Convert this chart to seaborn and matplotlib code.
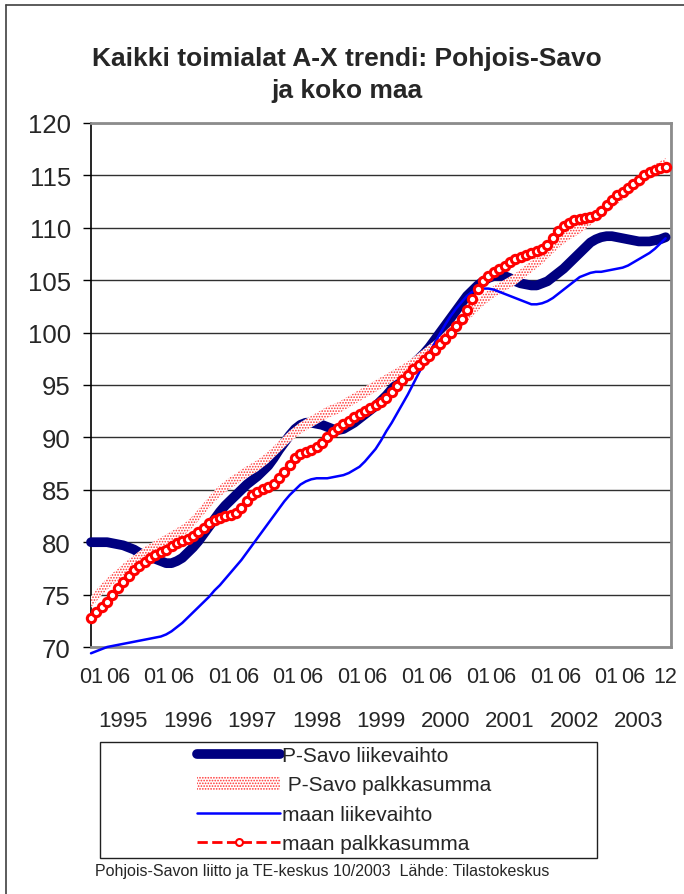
import numpy as np
import pandas as pd
import matplotlib
matplotlib.use("Agg")
import matplotlib.pyplot as plt
import matplotlib.patches as mpatches
from matplotlib.lines import Line2D
import matplotlib.transforms as mtransforms
import seaborn as sns

# monthly values, Jan 1995 .. Dec 2003 (108 months)
psavo_liikevaihto = [
    80.0, 80.0, 80.0, 80.0, 79.9, 79.8, 79.7, 79.5, 79.3, 79.0, 78.8, 78.6,
    78.4, 78.2, 78.0, 78.0, 78.2, 78.5, 79.0, 79.5, 80.1, 80.8, 81.5, 82.2,
    82.9, 83.5, 84.0, 84.5, 85.0, 85.5, 85.9, 86.3, 86.8, 87.3, 88.0, 88.8,
    89.5, 90.2, 90.8, 91.2, 91.4, 91.4, 91.3, 91.2, 91.0, 90.8, 90.7, 90.8,
    91.1, 91.4, 91.8, 92.2, 92.6, 93.0, 93.5, 94.0, 94.6, 95.2, 95.8, 96.4,
    97.0, 97.5, 98.0, 98.6, 99.3, 100.0, 100.7, 101.4, 102.1, 102.8, 103.5, 104.0,
    104.5, 104.9, 105.2, 105.4, 105.4, 105.4, 105.2, 104.9, 104.7, 104.6, 104.5, 104.5,
    104.7, 104.9, 105.3, 105.7, 106.1, 106.6, 107.1, 107.6, 108.1, 108.6, 108.9, 109.1,
    109.2, 109.2, 109.1, 109.0, 108.9, 108.8, 108.7, 108.7, 108.7, 108.8, 108.9, 109.1,
]
psavo_palkkasumma = [
    74.3, 74.9, 75.5, 76.0, 76.5, 76.9, 77.4, 77.8, 78.2, 78.6, 79.0, 79.3,
    79.6, 79.9, 80.2, 80.5, 80.8, 81.1, 81.5, 82.0, 82.6, 83.2, 83.8, 84.4,
    84.9, 85.3, 85.7, 86.0, 86.4, 86.7, 87.0, 87.3, 87.7, 88.1, 88.6, 89.1,
    89.6, 90.1, 90.5, 90.9, 91.2, 91.5, 91.8, 92.1, 92.4, 92.6, 92.8, 93.1,
    93.4, 93.7, 94.0, 94.3, 94.6, 94.9, 95.2, 95.5, 95.8, 96.1, 96.4, 96.7,
    97.1, 97.5, 97.9, 98.3, 98.7, 99.1, 99.6, 100.1, 100.6, 101.1, 101.6, 102.1,
    102.6, 103.1, 103.5, 103.9, 104.2, 104.5, 104.8, 105.1, 105.5, 105.9, 106.3, 106.7,
    107.1, 107.6, 108.1, 108.6, 109.0, 109.4, 109.7, 110.0, 110.4, 110.8, 111.2, 111.6,
    112.0, 112.4, 112.8, 113.2, 113.6, 114.0, 114.4, 114.8, 115.2, 115.5, 115.8, 116.1,
]
maan_liikevaihto = [
    69.4, 69.6, 69.8, 70.0, 70.1, 70.2, 70.3, 70.4, 70.5, 70.6, 70.7, 70.8,
    70.9, 71.0, 71.2, 71.5, 71.9, 72.3, 72.8, 73.3, 73.8, 74.3, 74.8, 75.4,
    75.9, 76.5, 77.1, 77.7, 78.3, 79.0, 79.7, 80.4, 81.1, 81.8, 82.5, 83.2,
    83.9, 84.5, 85.0, 85.5, 85.8, 86.0, 86.1, 86.1, 86.1, 86.2, 86.3, 86.4,
    86.6, 86.9, 87.2, 87.7, 88.3, 88.9, 89.7, 90.6, 91.4, 92.3, 93.2, 94.1,
    95.1, 96.1, 97.1, 98.1, 99.0, 99.9, 100.8, 101.6, 102.3, 102.9, 103.5, 103.9,
    104.1, 104.2, 104.2, 104.1, 103.9, 103.7, 103.5, 103.3, 103.1, 102.9, 102.7, 102.7,
    102.8, 103.0, 103.3, 103.7, 104.1, 104.5, 104.9, 105.3, 105.5, 105.7, 105.8, 105.8,
    105.9, 106.0, 106.1, 106.2, 106.4, 106.7, 107.0, 107.3, 107.6, 108.0, 108.5, 109.0,
]
maan_palkkasumma = [
    72.8, 73.3, 73.8, 74.3, 75.0, 75.6, 76.2, 76.8, 77.3, 77.7, 78.1, 78.5,
    78.8, 79.1, 79.3, 79.6, 79.9, 80.1, 80.3, 80.6, 81.0, 81.4, 81.8, 82.1,
    82.3, 82.5, 82.6, 82.8, 83.3, 83.9, 84.5, 84.8, 85.1, 85.3, 85.6, 86.1,
    86.7, 87.4, 88.0, 88.4, 88.6, 88.8, 89.1, 89.5, 90.0, 90.5, 90.9, 91.3,
    91.6, 91.9, 92.2, 92.5, 92.8, 93.1, 93.4, 93.8, 94.3, 94.9, 95.5, 96.0,
    96.5, 96.9, 97.4, 97.8, 98.3, 98.9, 99.4, 100.0, 100.6, 101.3, 102.2, 103.2,
    104.2, 104.9, 105.4, 105.8, 106.1, 106.4, 106.7, 107.0, 107.2, 107.4, 107.6, 107.8,
    108.0, 108.4, 109.0, 109.7, 110.2, 110.5, 110.7, 110.8, 110.9, 111.0, 111.2, 111.6,
    112.2, 112.7, 113.1, 113.4, 113.8, 114.2, 114.6, 115.0, 115.3, 115.5, 115.7, 115.8,
]
years = ["1995", "1996", "1997", "1998", "1999", "2000", "2001", "2002", "2003"]
series_labels = ["P-Savo liikevaihto", " P-Savo palkkasumma", "maan liikevaihto", "maan palkkasumma"]
title = "Kaikki toimialat A-X trendi: Pohjois-Savo\nja koko maa"
footer = "Pohjois-Savon liitto ja TE-keskus 10/2003  Lähde: Tilastokeskus"

months = np.arange(len(maan_palkkasumma))
df = pd.DataFrame({
    "month": months,
    "psavo_lv": psavo_liikevaihto,
    "psavo_ps": psavo_palkkasumma,
    "maa_lv": maan_liikevaihto,
    "maa_ps": maan_palkkasumma,
})

sns.set_style("white")
plt.rcParams["font.family"] = ["Liberation Sans", "DejaVu Sans"]
plt.rcParams["hatch.linewidth"] = 0.8

W, H = 684, 895
fig = plt.figure(figsize=(W / 100, H / 100), dpi=100)
ax = fig.add_axes([91 / W, 1 - 648 / H, 580 / W, 524 / H])

navy = "#000080"
sns.lineplot(data=df, x="month", y="psavo_lv", color=navy, linewidth=7,
             solid_capstyle="round", legend=False, ax=ax, zorder=3, clip_on=False)
ax.fill_between(df["month"], df["psavo_ps"] - 0.55, df["psavo_ps"] + 0.55,
                facecolor="white", edgecolor="#ff3030", hatch="......",
                linewidth=0, zorder=4)
sns.lineplot(data=df, x="month", y="maa_lv", color="#0000ff", linewidth=1.8,
             legend=False, ax=ax, zorder=5, clip_on=False)
sns.lineplot(data=df, x="month", y="maa_ps", color="red", linewidth=1.5,
             linestyle="--", marker="o", markersize=6, markerfacecolor="white",
             markeredgecolor="red", markeredgewidth=2.2,
             legend=False, ax=ax, zorder=6, clip_on=False)

ax.set_xlim(0, 108)
ax.set_ylim(70, 120)
ax.set_yticks(np.arange(70, 121, 5))
ax.tick_params(axis="y", labelsize=18.5, length=6, width=1, color="black",
               direction="out", pad=8.5, left=True)

# tick labels: 01 and 06 of each year, 12 at the end
xt, xl = [], []
for k in range(len(years)):
    xt += [12 * k, 12 * k + 5]
    xl += ["01", "06"]
xt.append(len(months) - 1)
xl.append("12")
ax.set_xticks(xt)
ax.set_xticklabels(xl)
ax.set_xticks(np.arange(0, 109, 12), minor=True)
ax.tick_params(axis="x", which="both", length=0, labelsize=15.5, pad=14)

ax.grid(False)
ax.grid(True, axis="y", which="major", color="#303030", linewidth=1)
ax.grid(True, axis="x", which="minor", color="#303030", linewidth=1)
ax.set_axisbelow(True)
ax.set_xlabel("")
ax.set_ylabel("")

for side in ["top", "right", "bottom"]:
    ax.spines[side].set_color("#8c8c8c")
    ax.spines[side].set_linewidth(2)
ax.spines["left"].set_color("black")
ax.spines["left"].set_linewidth(1.2)

# year labels under the tick labels
trans = mtransforms.blended_transform_factory(ax.transData, ax.transAxes)
for k, yr in enumerate(years):
    ax.text(12 * k + 6, -0.141, yr, transform=trans, ha="center", va="center",
            fontsize=16)

fig.text(0.507, 1 - 75 / H, title, ha="center", va="center", fontsize=19,
         fontweight="bold", linespacing=1.45)

# legend in its own box
handles = [
    Line2D([], [], color=navy, linewidth=7, solid_capstyle="round"),
    mpatches.Patch(facecolor="white", edgecolor="#ff3030", hatch="......", linewidth=0),
    Line2D([], [], color="#0000ff", linewidth=1.8),
    Line2D([], [], color="red", linestyle="--", linewidth=2, marker="o",
           markersize=5, markerfacecolor="white", markeredgecolor="red",
           markeredgewidth=1.5),
]
fig.legend(handles, series_labels, loc="upper left",
           bbox_to_anchor=(197 / W, 1 - 747 / H), frameon=False, borderpad=0,
           handlelength=4.0, handletextpad=0.1, labelspacing=0.5, fontsize=15,
           borderaxespad=0)
fig.add_artist(mpatches.Rectangle((100 / W, 1 - 859 / H), 497 / W, 116 / H,
                                  transform=fig.transFigure, fill=False,
                                  edgecolor="#202020", linewidth=1))

fig.text(95 / W, 1 - 872 / H, footer, ha="left", va="center", fontsize=11.5)

# outer chart frame (left and top edges visible)
fig.add_artist(Line2D([6 / W, 6 / W], [0, 1 - 6 / H], transform=fig.transFigure,
                      color="#404040", linewidth=1.2))
fig.add_artist(Line2D([6 / W, 1], [1 - 6 / H, 1 - 6 / H], transform=fig.transFigure,
                      color="#404040", linewidth=1.2))

fig.savefig("out.png", dpi=100)
